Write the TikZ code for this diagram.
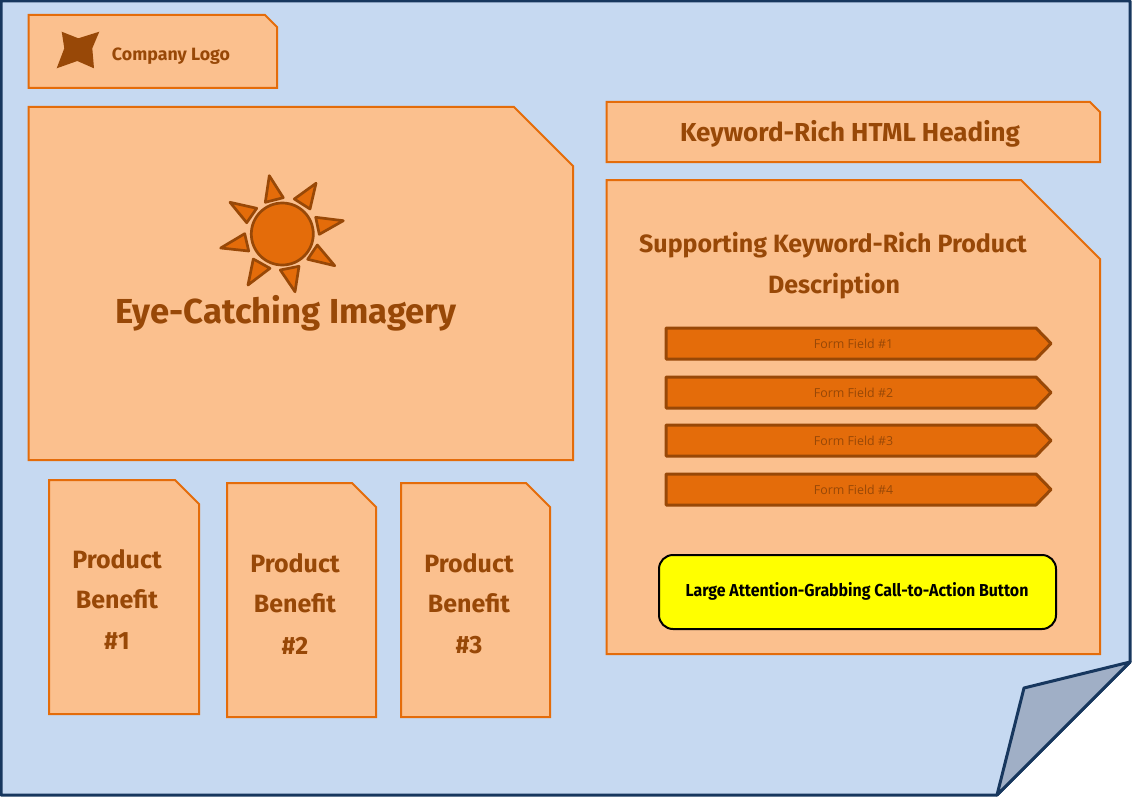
\documentclass[tikz,border=0pt]{standalone}
\usepackage{fontspec}
\setmainfont{Fira Sans}
\newfontfamily\fieldfont{Open Sans}
\newfontfamily\buttonfont[FakeStretch=0.92]{Fira Sans Bold}
\definecolor{pagefill}{HTML}{C6D9F1}
\definecolor{pageline}{HTML}{17375E}
\definecolor{foldfill}{HTML}{A0AFC6}
\definecolor{boxfill}{HTML}{FBC08E}
\definecolor{boxline}{HTML}{E46C0A}
\definecolor{boxtext}{HTML}{984807}
\definecolor{buttonfill}{HTML}{FFFF00}
\newcommand{\notebox}[5]{\draw[block] (#1,#2) -- (#3-#5,#2) -- (#3,#2+#5) -- (#3,#4) -- (#1,#4) -- cycle;}
\newcommand{\sunray}[3]{\draw[ray] #1 -- #2 -- #3 -- cycle;}
\begin{document}
\begin{tikzpicture}[x=1pt,y=-1pt]
	\tikzset{block/.style = {draw=boxline, fill=boxfill, line width=2pt}}
	\tikzset{ray/.style = {draw=boxtext, fill=boxline, line width=2.7pt, line join=round}}
	\tikzset{field/.style = {draw=boxtext, fill=boxline, line width=3pt, line join=round}}
	\tikzset{label/.style = {text=boxtext, font=\bfseries\fontsize{#1}{#1}\selectfont, inner sep=0pt}}
	\tikzset{fieldlabel/.style = {text=boxtext, font=\fieldfont\fontsize{12.4}{12.4}\selectfont, inner sep=0pt}}

	\useasboundingbox (0,0) rectangle (1132,797);

	% page and its turned corner
	\draw[draw=pageline, fill=pagefill, line width=3pt, line join=round] (1,1) -- (1130,1) -- (1130,662) -- (997,795) -- (1,795) -- cycle;
	\draw[draw=pageline, fill=foldfill, line width=3pt, line join=round] (1130,662) -- (1024,688) -- (997,795) -- cycle;

	% boxes
	\notebox{28.5}{15}{277}{88}{12}
	\notebox{28.5}{107}{573}{460}{59}
	\notebox{606.5}{102}{1100}{162}{10}
	\notebox{606.5}{180}{1100}{654}{79}
	\notebox{49}{480}{199}{714}{24}
	\notebox{227}{483}{376}{717}{24}
	\notebox{401}{483}{550}{717}{24}

	% logo star
	\fill[boxtext] (61.7,31.7) -- (78.3,38.3) -- (99.3,31.7) -- (92.3,48.3) -- (94,68.3) -- (77.3,61) -- (56.7,68.3) -- (64.3,48.3) -- cycle;
	\node[label=17.8] (logo) at (171,56) {Company Logo};

	% sun
	\draw[ray] (282.3,234) circle (31);
	\sunray{(269.3,175.7)}{(283.3,197.7)}{(265.3,202.3)}
	\sunray{(316,183.3)}{(310,209)}{(294.3,199)}
	\sunray{(343.3,220.7)}{(319.3,234.3)}{(315.7,217.3)}
	\sunray{(334.7,265.7)}{(307.7,259.3)}{(317.3,245)}
	\sunray{(295,291.7)}{(280.3,270)}{(299,266.3)}
	\sunray{(248,285)}{(253.3,259)}{(270,268.3)}
	\sunray{(220.7,248)}{(244.7,233.7)}{(248.7,251)}
	\sunray{(230,202.3)}{(256.7,208.3)}{(246.7,222.7)}
	\node[label=34.7] (imagery) at (286,313) {Eye-Catching Imagery};

	% right column
	\node[label=26] (heading) at (850,134) {Keyword-Rich HTML Heading};
	\node[label=25] (supporting) at (833,245) {Supporting Keyword-Rich Product};
	\node[label=25] (description) at (834,286) {Description};

	% form fields
	\foreach \y/\n in {328/1,377/2,425/3,474/4}{
		\draw[field] (666,\y) -- (1036,\y) -- (1051,\y+15.5) -- (1036,\y+31) -- (666,\y+31) -- cycle;
		\node[fieldlabel] (field\n) at (853.5,\y+15.5) {Form Field \#\n};
	}

	% button
	\draw[draw=black, fill=buttonfill, line width=2pt, rounded corners=14pt] (659,555) rectangle (1056,629);
	\node[inner sep=0pt, font=\buttonfont\fontsize{17.3}{17.3}\selectfont] (button) at (857,591) {Large Attention-Grabbing Call-to-Action Button};

	% benefits
	\foreach \x/\y/\n in {117/559/1,295/563/2,469/563/3}{
		\node[label=25] (product\n) at (\x,\y) {Product};
		\node[label=25] (benefit\n) at (\x,\y+40.5) {Benefit};
		\node[label=25] (number\n) at (\x,\y+82.5) {\#\n};
	}
\end{tikzpicture}
\end{document}
